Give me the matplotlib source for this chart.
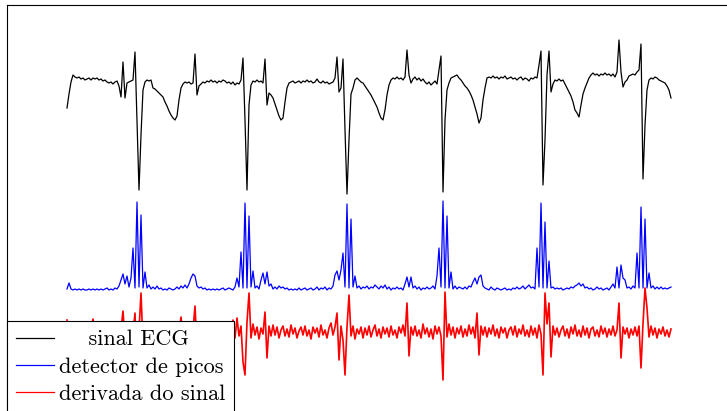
import numpy as np
import matplotlib.pyplot as plt

dt = 0.02

ecg = [
    -28, -14, -2, 5, 3, 2, 3, 1, 2, 0,
    1, 2, 0, 2, 1, 2, 0, 1, -1, 0,
    -2, -3, -2, -4, -2, -1, -6, -17, 18, -18,
    -3, -2, -1, 0, 28, -40, -110, -55, -10, -2,
    0, -1, 0, -8, -9, -11, -13, -15, -17, -22,
    -26, -31, -35, -38, -40, -36, -20, -8, -4, -2,
    -3, -2, -4, -3, 26, -15, -6, -4, -2, -3,
    -1, -2, 0, -2, -1, -3, -1, -2, 0, -1,
    -3, -2, -4, -2, -5, -3, -4, 0, 22, -40,
    -110, -25, -5, -1, -2, 0, -2, -1, -3, 21,
    -25, -13, -15, -18, -24, -30, -36, -40, -38, -22,
    -8, -3, -2, -1, -3, -2, -1, -3, -1, -2,
    0, -2, -1, -3, -2, 1, -2, -3, -1, -3,
    -2, -4, -3, -2, 2, 23, -12, -8, 21, -50,
    -114, -60, -14, -8, 0, 2, 0, -2, -3, -6,
    -9, -12, -15, -19, -23, -27, -33, -38, -40, -30,
    -15, -5, 0, 2, 1, 3, 1, 2, 0, 3,
    30, 5, -3, 1, 3, 0, 2, -1, 1, -2,
    -4, -2, -5, -3, -1, -4, 10, 24, -112, -40,
    -10, -3, 2, 3, 4, 5, 2, 0, -3, -6,
    -8, -11, -15, -20, -27, -34, -43, -38, -20, -8,
    2, 3, 2, 4, 2, 3, 1, 3, 2, 4,
    1, 2, 3, 1, 2, 0, 2, 3, 0, 2,
    1, -1, 2, 1, 3, 2, 15, 29, -105, -60,
    5, 29, -12, -4, 0, -1, 1, -1, 0, -4,
    -8, -12, -16, -22, -30, -33, -37, -25, -14, -8,
    -3, 2, 5, 7, 5, 6, 4, 6, 5, 7,
    5, 6, 4, 6, 3, 8, 40, 8, -7, -2,
    0, 4, 5, 6, 5, 8, 10, 36, -99, -45,
    -10, 0, 2, 1, 3, 2, 0, -1, -2, -3,
    -6, -10, -18,
]

picos = [
    1, 7, 1, 0, 1, 0, 1, 0, 1, 0,
    0, 1, 0, 1, 0, 1, 0, 1, 0, 1,
    2, 0, 1, 0, 2, 1, 4, 10, 16, 6,
    14, 3, 12, 42, 2, 88, 3, 75, 2, 18,
    2, 5, 1, 3, 1, 4, 1, 2, 0, 1,
    0, 2, 1, 0, 1, 3, 1, 4, 2, 5,
    2, 6, 12, 16, 14, 4, 2, 3, 1, 2,
    0, 1, 0, 1, 0, 1, 0, 1, 2, 0,
    1, 2, 1, 0, 3, 12, 3, 38, 2, 87,
    2, 74, 3, 19, 2, 4, 1, 10, 17, 6,
    18, 4, 6, 1, 3, 1, 4, 2, 3, 1,
    2, 0, 1, 0, 1, 0, 2, 0, 1, 2,
    0, 1, 2, 0, 1, 3, 0, 2, 1, 3,
    0, 2, 1, 4, 15, 19, 10, 20, 37, 3,
    86, 2, 71, 3, 14, 2, 4, 1, 3, 2,
    4, 1, 3, 2, 5, 3, 1, 4, 2, 5,
    1, 3, 0, 2, 1, 3, 1, 2, 0, 6,
    13, 3, 13, 2, 4, 1, 3, 0, 2, 1,
    3, 1, 2, 4, 1, 14, 42, 3, 89, 2,
    74, 2, 18, 1, 4, 1, 3, 2, 1, 3,
    1, 4, 3, 8, 12, 6, 13, 15, 4, 2,
    1, 0, 3, 1, 0, 2, 1, 0, 1, 2,
    0, 1, 0, 2, 1, 3, 1, 2, 4, 1,
    3, 5, 2, 3, 1, 42, 3, 87, 2, 68,
    2, 29, 2, 3, 1, 2, 1, 2, 0, 1,
    2, 1, 3, 2, 4, 5, 7, 4, 6, 2,
    3, 1, 2, 0, 1, 3, 1, 2, 0, 1,
    2, 0, 3, 6, 2, 23, 2, 25, 12, 10,
    2, 3, 1, 4, 2, 37, 2, 83, 2, 71,
    2, 17, 2, 4, 1, 3, 1, 3, 1, 2,
    1, 2, 3,
]

derivada = [
    12, -3, 4, -5, 2, -4, 6, -2, 3, -6,
    1, -3, 4, 13, -7, 3, -2, 5, -4, 2,
    -5, 4, -1, 6, -3, 2, -6, 3, 21, -8,
    4, -3, 5, -2, 19, -42, 2, 39, -12, 6,
    -4, 3, -5, 6, -2, 1, -6, 4, -3, 5,
    -1, 3, -5, 2, -4, 6, -2, 15, -5, 3,
    -3, 5, -6, 2, 26, -14, 4, -2, 5, -4,
    3, -5, 2, 6, -3, 4, -6, 1, 5, -2,
    4, -5, 3, 12, -6, 14, -4, 6, -30, -43,
    10, 39, -6, 8, -3, 5, -7, 4, -2, 20,
    -26, 6, -4, 7, -3, 5, -6, 2, 6, -4,
    3, -5, 7, -2, 4, -6, 1, 5, -3, 6,
    -4, 2, -7, 5, -1, 4, -5, 7, -3, 2,
    -6, 4, 9, -3, 5, 19, -28, 6, -8, -43,
    5, 37, -4, 6, -7, 3, -2, 5, -6, 4,
    -3, 6, -5, 2, 7, -4, 3, -6, 5, -2,
    4, -5, 6, -3, 2, -6, 5, -1, 7, -4,
    29, -24, 5, -3, 6, -4, 2, -6, 8, -2,
    4, -5, 3, -7, 6, -2, 5, -4, -48, 40,
    -5, 8, -3, 5, -6, 4, -2, 6, -5, 3,
    -4, 7, -2, 5, -6, 19, -23, 6, -3, 5,
    -5, 4, -2, 7, -4, 3, -6, 5, -1, 4,
    -6, 2, 5, -3, 6, -5, 3, -2, 7, -4,
    2, -5, 6, -3, 4, -6, 7, -2, -43, 39,
    8, 29, -25, 6, -3, 4, -5, 2, 6, -4,
    3, -6, 5, -2, 7, -4, 2, -5, 6, -3,
    4, -6, 3, 5, -4, 2, -5, 6, -2, 4,
    -5, 3, -3, 6, -4, 2, 29, -26, 5, -2,
    4, -6, 3, -3, 5, -4, 6, -36, 8, 44,
    24, -5, 6, -3, 4, -6, 3, -2, 5, -4,
    2, -5, 3,
]

rotulos = ['sinal ECG', 'detector de picos', 'derivada do sinal']
cores = ['black', 'blue', 'red']
deslocamentos = [0.0, -2.10, -2.52]
larguras = [0.9, 0.9, 1.2]

plt.rcParams['font.family'] = 'cmr10'

fig = plt.figure(figsize=(7.27, 4.11), dpi=100)
ax = fig.add_axes([7 / 727, -20 / 411, 740 / 727, 426 / 411])

for sinal, cor, desl, lw in zip([ecg, picos, derivada], cores, deslocamentos, larguras):
    y = np.array(sinal) / 100.0 + desl
    t = np.arange(len(y)) * dt
    ax.plot(t, y, color=cor, lw=lw)

ax.set_xlim(-0.60, 6.80)
ax.set_ylim(-3.51, 0.75)
ax.set_xticks([])
ax.set_yticks([])
for s in ax.spines.values():
    s.set_linewidth(0.8)

# legenda com o primeiro rótulo centrado
textos = ['    ' + rotulos[0], rotulos[1], rotulos[2]]
leg = ax.legend(ax.lines, textos, loc='upper left', bbox_to_anchor=(0, 110 / 426),
                borderaxespad=0, fontsize=16, fancybox=False, framealpha=1,
                edgecolor='black', handlelength=1.7, handletextpad=0.23,
                borderpad=0.4, labelspacing=0.34)
leg.get_frame().set_linewidth(0.8)
for ln in leg.get_lines():
    ln.set_linewidth(0.9)

plt.savefig('out.png', dpi=100)
